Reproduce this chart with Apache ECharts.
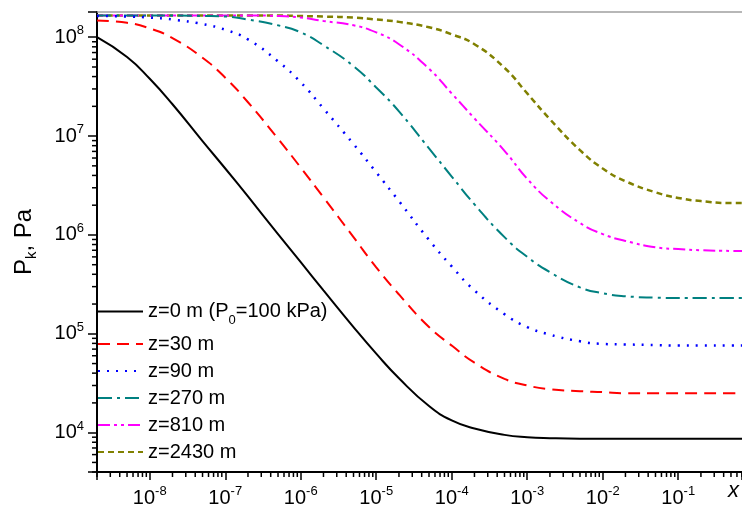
<!DOCTYPE html>
<html>
<head>
<meta charset="utf-8">
<script src="https://cdn.jsdelivr.net/npm/echarts@6/dist/echarts.min.js"></script>
<style>
  html, body { margin: 0; padding: 0; background: #fff; }
  #main { width: 742px; height: 514px; }
</style>
</head>
<body>
<div id="main"></div>
<script>
(function () {
    // x grid shared by all curves (1-2-5 per decade)
    var xValues = [2e-9, 5e-9, 1e-8, 2e-8, 5e-8, 1e-7, 2e-7, 5e-7, 1e-6, 2e-6, 5e-6, 1e-5, 2e-5, 5e-5,
        1e-4, 2e-4, 5e-4, 1e-3, 2e-3, 5e-3, 1e-2, 2e-2, 5e-2, 0.1, 0.2, 0.5, 0.7];

    var names = ['z=0 m (P0=100 kPa)', 'z=30 m', 'z=90 m', 'z=270 m', 'z=810 m', 'z=2430 m'];

    var pZ0 = [1.0e8, 6.3e7, 3.8e7, 2.1e7, 8.9e6, 4.7e6, 2.45e6, 1.02e6, 5.3e5, 2.75e5, 1.17e5, 6.3e4, 3.55e4, 1.86e4,
        1.33e4, 1.10e4, 9.5e3, 9.0e3, 8.8e3, 8.7e3, 8.7e3, 8.7e3, 8.7e3, 8.7e3, 8.7e3, 8.7e3, 8.7e3];
    var pZ30 = [1.48e8, 1.40e8, 1.23e8, 9.8e7, 6.2e7, 3.9e7, 2.2e7, 9.4e6, 4.8e6, 2.4e6, 9.5e5, 4.7e5, 2.5e5, 1.17e5,
        7.6e4, 5.1e4, 3.5e4, 3.0e4, 2.75e4, 2.63e4, 2.57e4, 2.5e4, 2.5e4, 2.5e4, 2.5e4, 2.5e4, 2.5e4];
    var pZ90 = [1.64e8, 1.62e8, 1.58e8, 1.51e8, 1.36e8, 1.19e8, 9.5e7, 5.7e7, 3.5e7, 1.9e7, 8.3e6, 4.3e6, 2.2e6, 8.9e5,
        4.8e5, 2.75e5, 1.58e5, 1.17e5, 9.8e4, 8.4e4, 7.9e4, 7.8e4, 7.7e4, 7.6e4, 7.6e4, 7.6e4, 7.6e4];
    var pZ270 = [1.66e8, 1.66e8, 1.66e8, 1.66e8, 1.64e8, 1.62e8, 1.51e8, 1.32e8, 1.12e8, 8.3e7, 5.1e7, 3.1e7, 1.78e7, 7.5e6,
        3.9e6, 2.04e6, 9.5e5, 6.0e5, 4.2e5, 2.95e5, 2.57e5, 2.4e5, 2.32e5, 2.3e5, 2.3e5, 2.3e5, 2.3e5];
    var pZ810 = [1.66e8, 1.66e8, 1.66e8, 1.66e8, 1.66e8, 1.66e8, 1.66e8, 1.64e8, 1.58e8, 1.46e8, 1.32e8, 1.12e8, 8.5e7, 4.8e7,
        2.7e7, 1.51e7, 7.1e6, 3.7e6, 2.2e6, 1.32e6, 1.02e6, 8.7e5, 7.5e5, 7.2e5, 7.0e5, 6.9e5, 6.9e5];
    var pZ2430 = [1.66e8, 1.66e8, 1.66e8, 1.66e8, 1.66e8, 1.66e8, 1.66e8, 1.66e8, 1.64e8, 1.62e8, 1.58e8, 1.51e8, 1.43e8, 1.26e8,
        1.07e8, 8.5e7, 4.9e7, 2.7e7, 1.48e7, 7.2e6, 4.7e6, 3.5e6, 2.7e6, 2.37e6, 2.2e6, 2.1e6, 2.1e6];

    var xMin = 2e-9, xMax = 0.7, yMin = 4000, yMax = 1.8e8;
    var font = 'Arial, "Liberation Sans", sans-serif';

    var myChart = echarts.init(document.getElementById('main'));

    function pairs(ys) {
        return xValues.map(function (x, i) { return [x, ys[i]]; });
    }

    // labels 10^n, nothing for non-decade ticks (axis ends)
    function powLabel(v) {
        var e = Math.log10(v);
        if (Math.abs(e - Math.round(e)) > 0.01) return '';
        return '10{sup|' + Math.round(e) + '}';
    }

    // minor tick positions 2..9 x 10^n inside an extent
    function minorTicks(lo, hi) {
        var out = [];
        for (var n = -10; n <= 9; n++) {
            for (var k = 2; k <= 9; k++) {
                var v = k * Math.pow(10, n);
                if (v >= lo * 0.999 && v <= hi * 1.001) out.push(v);
            }
        }
        return out;
    }

    var labelRich = {
        sup: { fontSize: 13, lineHeight: 13, verticalAlign: 'top', fontFamily: font, color: '#000' }
    };

    var styles = [
        { color: '#000000', type: 'solid', width: 2 },
        { color: '#ff0000', type: [12, 7], width: 2 },
        { color: '#0000ff', type: [2, 7], width: 2.5 },
        { color: '#008080', type: [14, 5, 3, 5], width: 2 },
        { color: '#ff00ff', type: [12, 4, 3, 4, 3, 4], width: 2 },
        { color: '#808000', type: [6, 4], width: 2.5 }
    ];
    var curves = [pZ0, pZ30, pZ90, pZ270, pZ810, pZ2430];

    var series = curves.map(function (ys, i) {
        return {
            name: names[i],
            type: 'line',
            data: pairs(ys),
            smooth: 0.5,
            symbol: 'none',
            lineStyle: styles[i],
            itemStyle: { color: styles[i].color },
            z: 10 - i
        };
    });

    series.push({
        type: 'custom',
        silent: true,
        data: minorTicks(xMin, xMax).map(function (v) { return [v, yMin]; }),
        renderItem: function (params, api) {
            var p = api.coord([api.value(0), api.value(1)]);
            return { type: 'line', shape: { x1: p[0], y1: p[1], x2: p[0], y2: p[1] + 5 },
                style: { stroke: '#000', lineWidth: 1.5 } };
        }
    });
    series.push({
        type: 'custom',
        silent: true,
        data: minorTicks(yMin, yMax).map(function (v) { return [xMin, v]; }),
        renderItem: function (params, api) {
            var p = api.coord([api.value(0), api.value(1)]);
            return { type: 'line', shape: { x1: p[0] - 5, y1: p[1], x2: p[0], y2: p[1] },
                style: { stroke: '#000', lineWidth: 1.5 } };
        }
    });

    myChart.setOption({
        backgroundColor: '#fff',
        animation: false,
        textStyle: { fontFamily: font },
        grid: { left: 97, right: 0, top: 12, bottom: 42, outerBoundsMode: 'none' },
        legend: {
            data: names,
            orient: 'vertical',
            left: 97,
            top: 296,
            padding: 0,
            itemGap: 7,
            itemWidth: 45,
            itemHeight: 14,
            selectedMode: false,
            itemStyle: { opacity: 0 },
            formatter: function (name) {
                if (name === names[0]) return 'z=0 m (P{sub|0}=100 kPa)';
                return name;
            },
            textStyle: {
                fontSize: 20, lineHeight: 20, color: '#000', fontFamily: font,
                rich: {
                    sub: { fontSize: 13, lineHeight: 13, padding: [18, 0, 0, 0], fontFamily: font, color: '#000' }
                }
            }
        },
        xAxis: [{
            type: 'log',
            min: xMin,
            max: xMax,
            axisLine: { lineStyle: { color: '#000', width: 2 } },
            axisTick: { length: 8, lineStyle: { color: '#000', width: 1.5 } },
            axisLabel: {
                margin: 13,
                formatter: powLabel,
                fontSize: 20, lineHeight: 26, color: '#000', fontFamily: font,
                rich: labelRich
            },
            splitLine: { show: false }
        }, {
            type: 'log',
            position: 'top',
            min: xMin,
            max: xMax,
            axisLine: { lineStyle: { color: '#a0a0a0', width: 1.5 } },
            axisTick: { show: false },
            axisLabel: { show: false },
            splitLine: { show: false }
        }],
        yAxis: {
            type: 'log',
            min: yMin,
            max: yMax,
            name: '{b|P}{s|k}{b|, Pa}',
            nameLocation: 'middle',
            nameRotate: 90,
            nameGap: 60,
            nameTextStyle: {
                fontSize: 24, color: '#000', fontFamily: font,
                rich: {
                    b: { fontSize: 24, lineHeight: 26, fontFamily: font, color: '#000' },
                    s: { fontSize: 15, lineHeight: 15, padding: [15, 0, 0, 0], fontFamily: font, color: '#000' }
                }
            },
            axisLine: { lineStyle: { color: '#000', width: 2 } },
            axisTick: { length: 9, lineStyle: { color: '#000', width: 1.5 } },
            axisLabel: {
                margin: 13,
                formatter: powLabel,
                fontSize: 20, lineHeight: 26, color: '#000', fontFamily: font,
                rich: labelRich
            },
            splitLine: { show: false }
        },
        graphic: [{
            type: 'text',
            left: 728,
            top: 480,
            style: { text: 'x', font: 'italic 22px Arial, "Liberation Sans", sans-serif', fill: '#000' }
        }],
        series: series
    });
})();
</script>
</body>
</html>
